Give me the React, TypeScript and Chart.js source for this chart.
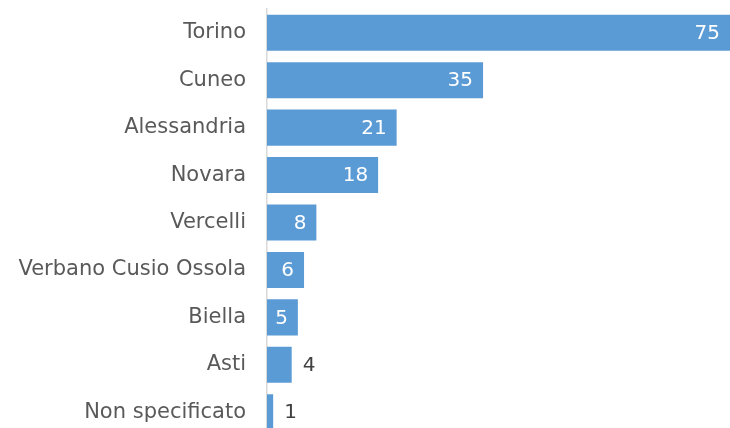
import React, { useEffect, useRef } from "react";
import { Chart, registerables } from "chart.js";

Chart.register(...registerables);

const categories = [
  "Torino",
  "Cuneo",
  "Alessandria",
  "Novara",
  "Vercelli",
  "Verbano Cusio Ossola",
  "Biella",
  "Asti",
  "Non specificato",
];
const values = [75, 35, 21, 18, 8, 6, 5, 4, 1];

const FONT = "'DejaVu Sans', sans-serif";
const FONT_SIZE = 21;
const VALUE_SIZE = 20;
const BAR = "#5B9BD5";
const TEXT = "#595959";

const labelPlugin = {
  id: "barLabels",
  afterDatasetsDraw(chart: any) {
    const ctx = chart.ctx;
    const meta = chart.getDatasetMeta(0);
    ctx.save();
    ctx.font = `${VALUE_SIZE}px ${FONT}`;
    ctx.textBaseline = "middle";
    meta.data.forEach((bar: any, i: number) => {
      const txt = String(values[i]);
      const w = ctx.measureText(txt).width;
      const barW = bar.x - bar.base;
      if (w + 18 <= barW) {
        ctx.fillStyle = "#ffffff";
        ctx.textAlign = "right";
        ctx.fillText(txt, bar.x - 10, bar.y + 1);
      } else {
        ctx.fillStyle = "#404040";
        ctx.textAlign = "left";
        ctx.fillText(txt, bar.x + 11, bar.y + 1);
      }
    });
    ctx.restore();
  },
};

export default function App() {
  const ref = useRef<HTMLCanvasElement | null>(null);
  useEffect(() => {
    if (!ref.current) return;
    const chart = new Chart(ref.current, {
      type: "bar",
      data: {
        labels: categories,
        datasets: [
          {
            data: values,
            backgroundColor: BAR,
            borderWidth: 0,
            categoryPercentage: 1,
            barPercentage: 0.76,
          },
        ],
      },
      options: {
        indexAxis: "y",
        animation: false,
        responsive: false,
        maintainAspectRatio: false,
        layout: { padding: { top: 9, right: 0, bottom: 0, left: 0 } },
        plugins: { legend: { display: false }, tooltip: { enabled: false } },
        scales: {
          x: { display: false, min: 0, max: 75 },
          y: {
            afterFit(scale: any) {
              scale.width = 267;
              scale.paddingTop = 0;
              scale.paddingBottom = 0;
            },
            grid: { display: false, drawTicks: false },
            border: { display: true, color: "#d9d9d9", width: 1.5 },
            ticks: {
              color: TEXT,
              font: { family: FONT, size: FONT_SIZE },
              padding: 21,
            },
          },
        },
      },
      plugins: [labelPlugin],
    });
    return () => chart.destroy();
  }, []);
  return (
    <div style={{ position: "fixed", left: 0, top: 0, width: 730, height: 436 }}>
      <canvas ref={ref} width={730} height={436} style={{ display: "block" }} />
    </div>
  );
}
